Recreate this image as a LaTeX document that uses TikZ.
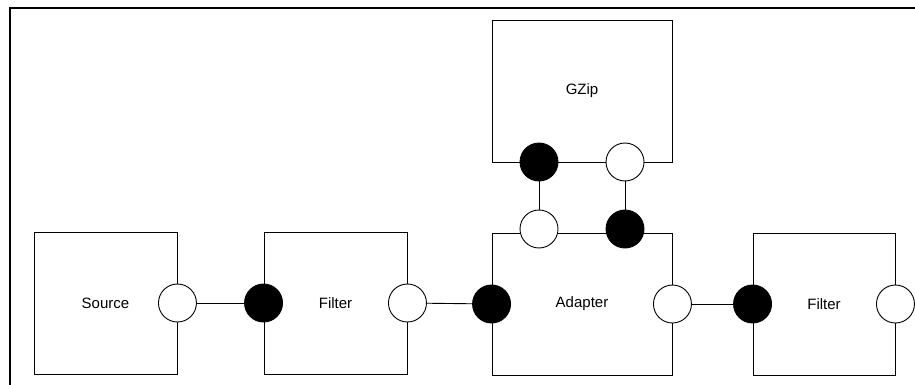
\documentclass[tikz,border=0pt]{standalone}
\usepackage{fontspec}
\setmainfont{Liberation Sans}
\begin{document}
\begin{tikzpicture}[x=1pt,y=-1pt,
  comp/.style={draw=black, line width=0.9pt, fill=white, inner sep=0pt, font=\fontsize{15}{17}\selectfont},
  portw/.style={circle, draw=black, line width=0.9pt, fill=white, minimum size=38pt, inner sep=0pt},
  portb/.style={circle, draw=black, line width=0.9pt, fill=black, minimum size=38pt, inner sep=0pt},
  wire/.style={draw=black, line width=0.9pt}]
\useasboundingbox (0,0) rectangle (915,385);
\fill[white] (0,0) rectangle (915,385);
% frame
\draw[line width=2pt] (10,385) -- (10,7.7) -- (915,7.7);
% components
\node[comp, minimum width=143pt, minimum height=142pt] (src) at (105.5,303) {Source};
\node[comp, minimum width=143pt, minimum height=142pt] (f1) at (335.5,303) {Filter};
\node[comp, minimum width=180pt, minimum height=142pt] (ad) at (582,304) {Adapter};
\node[comp, minimum width=180pt, minimum height=142pt] (gz) at (582,91) {GZip};
\node[comp, minimum width=142pt, minimum height=142pt] (f2) at (824,304) {Filter};
% ports
\node[portw] (srcout) at (src.east) {};
\node[portb] (f1in) at (f1.west) {};
\node[portw] (f1out) at (f1.east) {};
\node[portb] (adin) at (ad.west) {};
\node[portw] (adout) at (ad.east) {};
\node[portw] (adup) at (539,229) {};
\node[portb] (adret) at (625,229) {};
\node[portb] (gzin) at (539,162) {};
\node[portw] (gzout) at (625,162) {};
\node[portb] (f2in) at (f2.west) {};
\node[portw] (f2out) at (f2.east) {};
% connectors
\draw[wire] (srcout) -- (f1in);
\draw[wire] (f1out) -- (adin);
\draw[wire] (adout) -- (f2in);
\draw[wire] (gzin) -- (adup);
\draw[wire] (gzout) -- (adret);
\end{tikzpicture}
\end{document}
